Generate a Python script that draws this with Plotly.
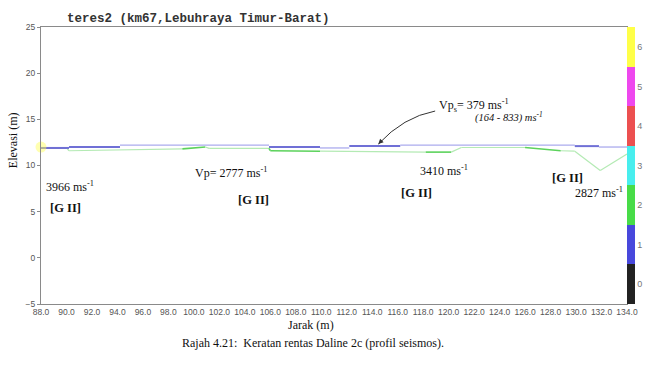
import plotly.graph_objects as go

# ---------------- data ----------------
# Ground surface (layer-1 top) segments
surface_start = [88.0, 90.2, 94.2, 105.9, 109.9, 112.2, 116.2, 129.9, 131.8]
surface_end   = [90.2, 94.2, 105.9, 109.9, 112.2, 116.2, 129.9, 131.8, 134.0]
surface_elev  = [11.9, 12.0, 12.2, 12.0, 11.9, 12.1, 12.2, 12.1, 12.0]
surface_kind  = ["dark", "dark", "light", "dark", "light", "dark", "light", "dark", "light"]

# Refractor (layer-2 top) vertices and edge classes
refr_x = [88.0, 90.0, 90.2, 99.1, 100.9, 101.2, 105.9, 106.0, 109.9, 118.2, 120.2,
          121.0, 126.0, 128.8, 129.9, 131.9, 134.0]
refr_y = [11.9, 11.9, 11.6, 11.8, 12.0, 11.85, 11.85, 11.6, 11.55, 11.45, 11.45,
          11.95, 11.95, 11.6, 11.55, 9.45, 11.25]
refr_kind = ["black", "light", "light", "bright", "light", "light", "bright", "bright",
             "light", "bright", "light", "light", "bright", "light", "light", "light"]

# Shot point
shot_x = [88.0]
shot_y = [12.0]

# Colour scale levels
scale_levels = [0, 1, 2, 3, 4, 5, 6]
scale_colors = ["#222222", "#4848dc", "#48dc48", "#48eeee", "#ec5050", "#ee48ee", "#ffff48"]

# Text labels
vel_labels = ["3966 ms<sup>-1</sup>", "Vp= 2777 ms<sup>-1</sup>", "3410 ms<sup>-1</sup>",
              "2827 ms<sup>-1</sup>"]
vel_x = [88.2, 102.9, 119.6, 131.8]
vel_y = [7.7, 9.2, 9.5, 7.1]
vel_anchor = ["left", "center", "center", "center"]
geo_labels = ["[G II]", "[G II]", "[G II]", "[G II]"]
geo_x = [89.9, 104.7, 117.5, 129.3]
geo_y = [5.4, 6.25, 7.0, 8.6]

x_ticks = [88 + 2 * i for i in range(24)]
y_ticks = [-5, 0, 5, 10, 15, 20, 25]

colors = {"dark": "#7070d6", "light": "#ababee"}
refr_colors = {"bright": "#5cd25c", "light": "#b4eab4", "black": "#404040"}

fig = go.Figure()

# Refractor line, drawn edge by edge
for i, k in enumerate(refr_kind):
    fig.add_trace(go.Scatter(x=[refr_x[i], refr_x[i + 1]], y=[refr_y[i], refr_y[i + 1]],
                             mode="lines", line=dict(color=refr_colors[k], width=1.6 if k == "bright" else 1.2),
                             showlegend=False, hoverinfo="skip"))

# Surface line
for s, e, v, k in zip(surface_start, surface_end, surface_elev, surface_kind):
    fig.add_trace(go.Scatter(x=[s, e], y=[v, v], mode="lines",
                             line=dict(color=colors[k], width=2 if k == "dark" else 1.3),
                             showlegend=False, hoverinfo="skip"))

# Shot point marker
fig.add_trace(go.Scatter(x=shot_x, y=shot_y, mode="markers",
                         marker=dict(size=11, color="rgba(255,255,80,0.45)"),
                         cliponaxis=False, showlegend=False, hoverinfo="skip"))

# Colour bar (via hidden marker trace)
cscale = []
n = len(scale_levels)
for i, c in enumerate(scale_colors):
    cscale.append([i / n, c])
    cscale.append([(i + 1) / n, c])
fig.add_trace(go.Scatter(
    x=[88.0], y=[12.0], mode="markers",
    marker=dict(size=1, opacity=0, color=[scale_levels[0]], colorscale=cscale,
                cmin=scale_levels[0] - 0.5, cmax=scale_levels[-1] + 0.5, showscale=True,
                colorbar=dict(x=1.0, xanchor="left", xpad=0, y=0.5, yanchor="middle",
                              len=1, lenmode="fraction", ypad=0, thickness=8,
                              outlinewidth=0, tickvals=scale_levels, ticks="",
                              tickfont=dict(family="Liberation Sans", size=9, color="#777"))),
    showlegend=False, hoverinfo="skip"))

serif = "Liberation Serif"
ann = []
for t, x, y, a in zip(vel_labels, vel_x, vel_y, vel_anchor):
    ann.append(dict(x=x, y=y, text=t, showarrow=False, xanchor=a, yanchor="middle",
                    font=dict(family=serif, size=12, color="#111")))
for t, x, y in zip(geo_labels, geo_x, geo_y):
    ann.append(dict(x=x, y=y, text="<b>" + t + "</b>", showarrow=False,
                    font=dict(family=serif, size=12.5, color="#111")))
ann.append(dict(x=122.0, y=16.55, text="Vp<sub>s</sub>= 379 ms<sup>-1</sup>", showarrow=False,
                font=dict(family=serif, size=12, color="#111")))
ann.append(dict(x=124.7, y=15.25, text="<i>(164 - 833) ms<sup>-1</sup></i>", showarrow=False,
                font=dict(family=serif, size=10.5, color="#111")))
# arrow head
ann.append(dict(x=114.48, y=12.32, text="", showarrow=True, ax=5, ay=-5,
                arrowhead=2, arrowsize=1, arrowwidth=1, arrowcolor="#333"))
# title & axis titles & caption
ann.append(dict(xref="paper", yref="paper", x=0.041, y=1.029, xanchor="left", yanchor="middle",
                text="<b>teres2 (km67,Lebuhraya Timur-Barat)</b>", showarrow=False,
                font=dict(family="Liberation Mono", size=12.5, color="#333")))
ann.append(dict(xref="paper", yref="paper", x=-0.0475, y=0.592, text="Elevasi (m)", textangle=-90,
                xanchor="center", yanchor="middle",
                showarrow=False, font=dict(family=serif, size=12, color="#111")))
ann.append(dict(xref="paper", yref="paper", x=0.46, y=-0.077, text="Jarak (m)", showarrow=False,
                yanchor="middle", font=dict(family=serif, size=12, color="#111")))
ann.append(dict(xref="paper", yref="paper", x=0.465, y=-0.14,
                text="Rajah 4.21:  Keratan rentas Daline 2c (profil seismos).", showarrow=False,
                yanchor="middle", font=dict(family=serif, size=12, color="#111")))

fig.update_layout(
    width=652, height=366,
    margin=dict(l=41, r=22, t=27, b=62),
    paper_bgcolor="white", plot_bgcolor="white",
    annotations=ann,
    shapes=[dict(type="path", xref="x", yref="y",
                 path="M 118.94,15.9 Q 116.44,15.25 114.48,12.32",
                 line=dict(color="#333", width=1))],
    xaxis=dict(range=[88, 134], tickvals=x_ticks, tickformat=".1f", showgrid=False, zeroline=False,
               showline=True, linecolor="#8a8a8a", linewidth=1, mirror=True, ticks="",
               tickangle=0, tickfont=dict(family="Liberation Sans", size=8.5, color="#555")),
    yaxis=dict(range=[-5, 25], tickvals=y_ticks, showgrid=False, zeroline=False,
               showline=True, linecolor="#8a8a8a", linewidth=1, mirror=True, ticks="outside",
               ticklen=3, tickcolor="#8a8a8a",
               tickfont=dict(family="Liberation Sans", size=8.5, color="#555")),
)

fig.write_html("out.html", config={"displayModeBar": False},
               post_script="document.body.style.margin='0';document.body.style.overflow='hidden';")
